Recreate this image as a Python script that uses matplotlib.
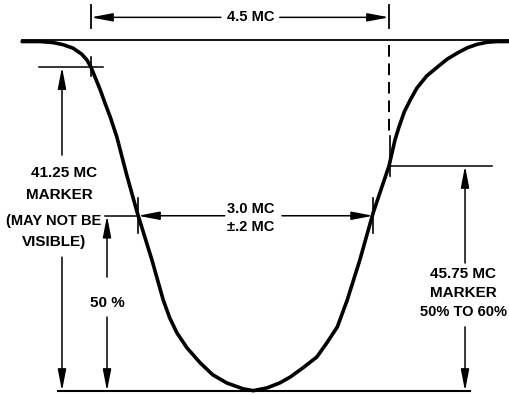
import matplotlib
matplotlib.use("Agg")
import matplotlib.pyplot as plt

# response curve: frequency (MC) vs relative response (%)
freq = [40.21, 40.48, 40.68, 40.83, 40.98, 41.11, 41.19, 41.25, 41.31, 41.39,
        41.46, 41.54, 41.64, 41.79, 41.95, 42.17, 42.34, 42.44, 42.55, 42.70,
        42.90, 43.09, 43.30, 43.55, 43.70, 43.91, 44.10, 44.26, 44.45, 44.66,
        44.81, 44.97, 45.12, 45.31, 45.51, 45.75, 45.84, 45.90, 45.98, 46.07,
        46.17, 46.32, 46.48, 46.63, 46.78, 46.93, 47.08, 47.23, 47.38, 47.56]
resp = [99.7, 99.7, 99.4, 98.8, 97.8, 96.1, 94.4, 92.4, 89.6, 85.9,
        82.2, 78.2, 72.5, 61.6, 50.8, 37.4, 26.0, 20.8, 16.5, 12.3,
        8.0, 4.6, 2.3, 0.6, 0.1, 0.9, 2.3, 4.0, 6.6, 9.7,
        13.7, 18.3, 26.0, 37.4, 50.8, 64.2, 71.6, 75.3, 79.6, 83.0,
        86.4, 89.9, 92.4, 94.7, 96.4, 97.9, 98.9, 99.5, 99.7, 99.7]

marker_freq = [41.25, 45.75]      # sound trap markers
marker_level = [92.4, 64.2]       # where the markers sit on the curve
half_freq = [41.96, 45.51]        # 50 % points
half_level = 50.0

FONT = ['Liberation Sans', 'DejaVu Sans']
AS = '-|>,head_length=1.3,head_width=0.25'


def arrow(tail, tip):
    ax.annotate('', xy=tip, xytext=tail,
                arrowprops=dict(arrowstyle=AS, color='k', lw=1.1,
                                shrinkA=0, shrinkB=0, mutation_scale=10))


def label(x, y, s, size=11):
    ax.text(x, y, s, ha='center', va='center', fontsize=size,
            family=FONT, weight='bold')


fig = plt.figure(figsize=(5.09, 3.95), dpi=100)
ax = fig.add_axes([0, 0, 1, 1])
ax.set_xlim(39.876, 47.562)
ax.set_ylim(-1.14, 111.55)
ax.axis('off')

# reference lines
ax.plot([40.21, 47.56], [100, 100], color='k', lw=1.3)
ax.plot([40.75, 46.97], [0, 0], color='k', lw=1.5)

# the curve
ax.plot(freq, resp, color='k', lw=2.6, solid_capstyle='round', solid_joinstyle='round')

# 4.5 MC spacing between the markers
ytop = 106.6
for f in marker_freq:
    ax.plot([f, f], [103.6, 110.1], color='k', lw=1.3)
arrow((43.21, ytop), (marker_freq[0], ytop))
arrow((44.10, ytop), (marker_freq[1], ytop))
label(43.666, ytop, '4.5 MC', 10.5)
ax.plot([marker_freq[1]] * 2, [98.7, 73.0], color='k', lw=1.4, dashes=(6, 3.5))

# 41.25 MC marker
f0, l0 = marker_freq[0], marker_level[0]
ax.plot([40.465, 41.43], [l0, l0], color='k', lw=1.1)
ax.plot([f0, f0], [l0 + 2.9, l0 - 2.5], color='k', lw=1.2)
arrow((40.812, 67.3), (40.812, l0))
arrow((40.812, 38.2), (40.812, 0))
label(40.842, 62.2, '41.25 MC')
label(40.78, 55.9, 'MARKER')
label(40.69, 48.5, '(MAY NOT BE', 10.5)
label(40.69, 42.5, 'VISIBLE)')

# 50 % level
ax.plot([41.46, half_freq[0]], [half_level, half_level], color='k', lw=1.1)
arrow((41.492, 32.5), (41.492, half_level))
arrow((41.492, 21.1), (41.492, 0))
label(41.49, 25.1, '50 %')

# 3.0 MC bandwidth
arrow((43.27, half_level), (half_freq[0], half_level))
arrow((44.134, half_level), (half_freq[1], half_level))
for f in half_freq:
    ax.plot([f, f], [half_level + 5, half_level - 4.8], color='k', lw=1.2)
label(43.666, 51.8, '3.0 MC', 10.5)
label(43.666, 46.8, '±.2 MC', 10.5)

# 45.75 MC marker
f1, l1 = marker_freq[1], marker_level[1]
ax.plot([45.765, 47.31], [l1, l1], color='k', lw=1.1)
ax.plot([45.765, 45.765], [l1 + 8.5, l1 - 2.9], color='k', lw=1.2)
arrow((46.898, 36.5), (46.898, l1))
arrow((46.898, 18.3), (46.898, 0))
label(46.868, 33.4, '45.75 MC')
label(46.868, 28.0, 'MARKER')
label(46.875, 22.5, '50% TO 60%', 10.5)

fig.savefig('out.png', dpi=100)
